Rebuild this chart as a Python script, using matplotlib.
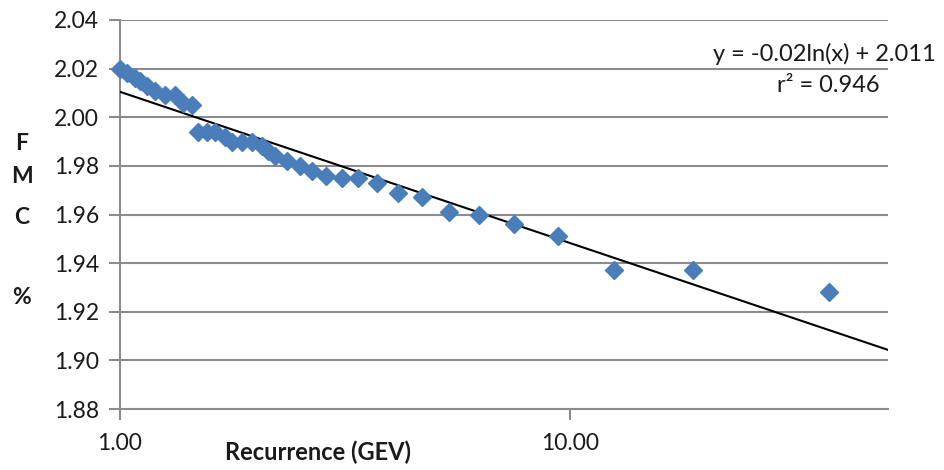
import numpy as np
import matplotlib
matplotlib.use("Agg")
import matplotlib.pyplot as plt
from matplotlib.ticker import FixedLocator, NullLocator

plt.rcParams['font.family'] = ['Lato', 'DejaVu Sans']

# Recurrence interval (GEV) and FMC %
recurrence = [1.000, 1.036, 1.080, 1.108, 1.148, 1.197, 1.259, 1.326, 1.381, 1.447,
              1.492, 1.563, 1.628, 1.714, 1.776, 1.869, 1.968, 2.072, 2.136, 2.214,
              2.354, 2.517, 2.677, 2.876, 3.122, 3.390, 3.736, 4.161, 4.682, 5.377,
              6.271, 7.504, 9.403, 12.53, 18.79, 37.74]
fmc = [2.020, 2.018, 2.016, 2.015, 2.013, 2.011, 2.009, 2.009, 2.006, 2.005,
       1.994, 1.994, 1.994, 1.992, 1.990, 1.990, 1.990, 1.988, 1.986, 1.984,
       1.982, 1.980, 1.978, 1.976, 1.975, 1.975, 1.973, 1.969, 1.967, 1.961,
       1.960, 1.956, 1.951, 1.937, 1.937, 1.928]

y_ticks = [1.88, 1.90, 1.92, 1.94, 1.96, 1.98, 2.00, 2.02, 2.04]
x_ticks = [1.0, 10.0]
x_tick_labels = ["1.00", "10.00"]
x_max = 51.0

fig = plt.figure(figsize=(9.45, 4.70), dpi=100)
ax = fig.add_axes([120 / 945, 1 - 409 / 470, (888 - 120) / 945, (409 - 20) / 470])

grid_col = "#8c8c8c"
text_col = "#1a1a1a"
ax.set_xscale("log")
ax.set_xlim(1.0, x_max)
ax.set_ylim(1.88, 2.04)

for yv in y_ticks[1:]:
    ax.axhline(yv, color=grid_col, lw=1.5, zorder=1)

# logarithmic trend line fitted on ln(x)
slope, intercept = np.polyfit(np.log(recurrence), fmc, 1)
xs = np.linspace(1.0, x_max, 400)
ax.plot(xs, slope * np.log(xs) + intercept, color="black", lw=1.5, zorder=3)

ax.plot(recurrence, fmc, linestyle="none", marker="D", ms=9.6,
        color="#4a7ebb", mec="#4a7ebb", zorder=4, clip_on=False)

for s in ["top", "right"]:
    ax.spines[s].set_visible(False)
for s in ["left", "bottom"]:
    ax.spines[s].set_color(grid_col)
    ax.spines[s].set_linewidth(1.5)

ax.yaxis.set_major_locator(FixedLocator(y_ticks))
ax.set_yticklabels([f"{v:.2f}" for v in y_ticks])
ax.xaxis.set_major_locator(FixedLocator(x_ticks))
ax.xaxis.set_minor_locator(NullLocator())
ax.set_xticklabels(x_tick_labels)
ax.tick_params(axis="y", direction="out", length=8, width=1.5, color=grid_col,
               labelsize=16.5, pad=7, labelcolor=text_col)
ax.tick_params(axis="x", direction="out", length=8, width=1.5, color=grid_col,
               labelsize=16.5, pad=9, labelcolor=text_col)

fig.text(318 / 945, 1 - 452 / 470, "Recurrence (GEV)", ha="center", va="center",
         fontsize=17, fontweight="bold", color=text_col)
for letter, ypx in [("F", 143), ("M", 177), ("C", 217), ("%", 297)]:
    fig.text(22 / 945, 1 - ypx / 470, letter, ha="center", va="center",
             fontsize=16.5, fontweight="bold", color=text_col)

fig.text(936 / 945, 1 - 54 / 470, "y = -0.02ln(x) + 2.011", ha="right", va="center",
         fontsize=17, color=text_col)
fig.text(880 / 945, 1 - 86 / 470, "r² = 0.946", ha="right", va="center",
         fontsize=17, color=text_col)

fig.savefig("out.png", dpi=100, facecolor="white")
